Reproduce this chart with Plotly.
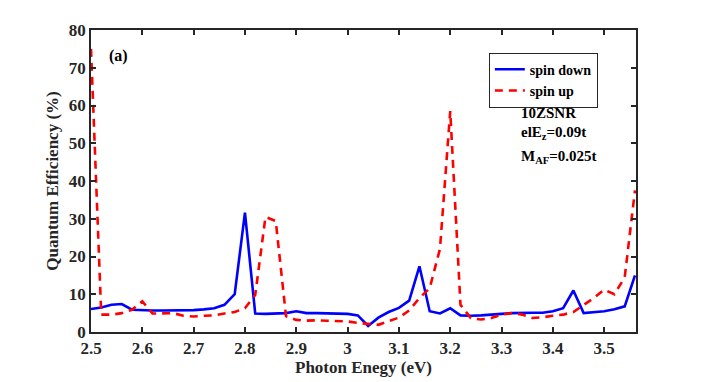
import plotly.graph_objects as go

# Photon energy grid (eV), 0.02 eV steps
energy = [round(2.50 + 0.02 * i, 2) for i in range(54)]

spin_down = [
    6.1, 6.5, 7.2, 7.4, 5.9, 5.7, 5.7, 5.7, 5.7, 5.8,
    5.8, 6.0, 6.3, 7.2, 10.0, 31.6, 4.9, 4.8, 4.9, 5.0,
    5.5, 5.0, 5.0, 5.0, 5.0, 4.8, 4.4, 1.6, 3.8, 5.3,
    6.4, 8.3, 17.4, 5.5, 4.9, 6.3, 4.4, 4.3, 4.4, 4.7,
    4.8, 5.0, 5.1, 5.1, 5.1, 5.5, 6.3, 11.0, 5.0, 5.2,
    5.5, 6.0, 6.8, 15.0,
]

spin_up = [
    75.0, 4.6, 4.6, 5.0, 5.9, 8.1, 4.9, 5.0, 5.0, 4.3,
    4.1, 4.3, 4.4, 4.9, 5.3, 6.3, 9.8, 30.5, 29.4, 4.2,
    3.2, 3.0, 3.1, 3.0, 2.9, 2.8, 2.4, 2.2, 1.9, 2.9,
    3.8, 5.7, 9.0, 11.6, 22.0, 58.5, 7.2, 3.7, 3.3, 3.7,
    4.6, 5.0, 4.6, 3.7, 3.9, 4.3, 4.6, 5.3, 7.2, 9.0,
    11.2, 10.0, 14.5, 37.5,
]

x_ticks = [2.5, 2.6, 2.7, 2.8, 2.9, 3.0, 3.1, 3.2, 3.3, 3.4, 3.5]
x_tick_labels = ["2.5", "2.6", "2.7", "2.8", "2.9", "3", "3.1", "3.2", "3.3", "3.4", "3.5"]
y_ticks = [0, 10, 20, 30, 40, 50, 60, 70, 80]

_FONT = "Liberation Serif, Times New Roman, serif"

fig = go.Figure()
fig.add_trace(go.Scatter(
    x=energy, y=spin_down, mode="lines", name="<b>spin down</b>",
    line=dict(color="#0000ff", width=2.6),
))
fig.add_trace(go.Scatter(
    x=energy, y=spin_up, mode="lines", name="<b>spin up</b>",
    line=dict(color="#ff0000", width=2.6, dash="8px,6px"),
))

axis_common = dict(
    showline=True, linecolor="#262626", linewidth=1.5, mirror="ticks",
    ticks="inside", ticklen=5, tickcolor="#262626", tickwidth=1.5,
    showgrid=False, zeroline=False, automargin=False,
    tickfont=dict(family=_FONT, size=17, color="#262626"),
)

# page body adds an 8px offset, so the figure is a bit smaller than the window
fig.update_layout(
    width=693, height=374,
    paper_bgcolor="white", plot_bgcolor="white",
    margin=dict(l=83, r=65, t=22, b=50),
    font=dict(family=_FONT, color="#262626"),
    xaxis=dict(
        range=[2.5, 3.562], tickvals=x_ticks, ticktext=[f"<b>{t}</b>" for t in x_tick_labels],
        title=dict(text="<b>Photon Enegy (eV)</b>", font=dict(family=_FONT, size=17), standoff=4),
        **axis_common,
    ),
    yaxis=dict(
        range=[0, 80], tickvals=y_ticks, ticktext=[f"<b>{t}</b>" for t in y_ticks],
        title=dict(text="<b>Quantum Efficiency (%)</b>", font=dict(family=_FONT, size=17), standoff=6),
        **axis_common,
    ),
    legend=dict(
        x=0.73, y=0.925, xanchor="left", yanchor="top",
        bordercolor="#262626", borderwidth=1, bgcolor="white",
        font=dict(family=_FONT, size=14, color="#000000"),
        itemwidth=30, tracegroupgap=0,
    ),
    annotations=[
        dict(x=0.03, y=0.915, xref="paper", yref="paper", text="<b>(a)</b>",
             showarrow=False, xanchor="left", yanchor="middle",
             font=dict(family=_FONT, size=16, color="#000000")),
        dict(x=0.785, y=0.725, xref="paper", yref="paper", text="<b>10ZSNR</b>",
             showarrow=False, xanchor="left", yanchor="middle",
             font=dict(family=_FONT, size=15, color="#000000")),
        dict(x=0.785, y=0.66, xref="paper", yref="paper", text="<b>elE<sub>z</sub>=0.09t</b>",
             showarrow=False, xanchor="left", yanchor="middle",
             font=dict(family=_FONT, size=15, color="#000000")),
        dict(x=0.785, y=0.58, xref="paper", yref="paper", text="<b>M<sub>AF</sub>=0.025t</b>",
             showarrow=False, xanchor="left", yanchor="middle",
             font=dict(family=_FONT, size=15, color="#000000")),
    ],
)

fig.write_html("out.html")
